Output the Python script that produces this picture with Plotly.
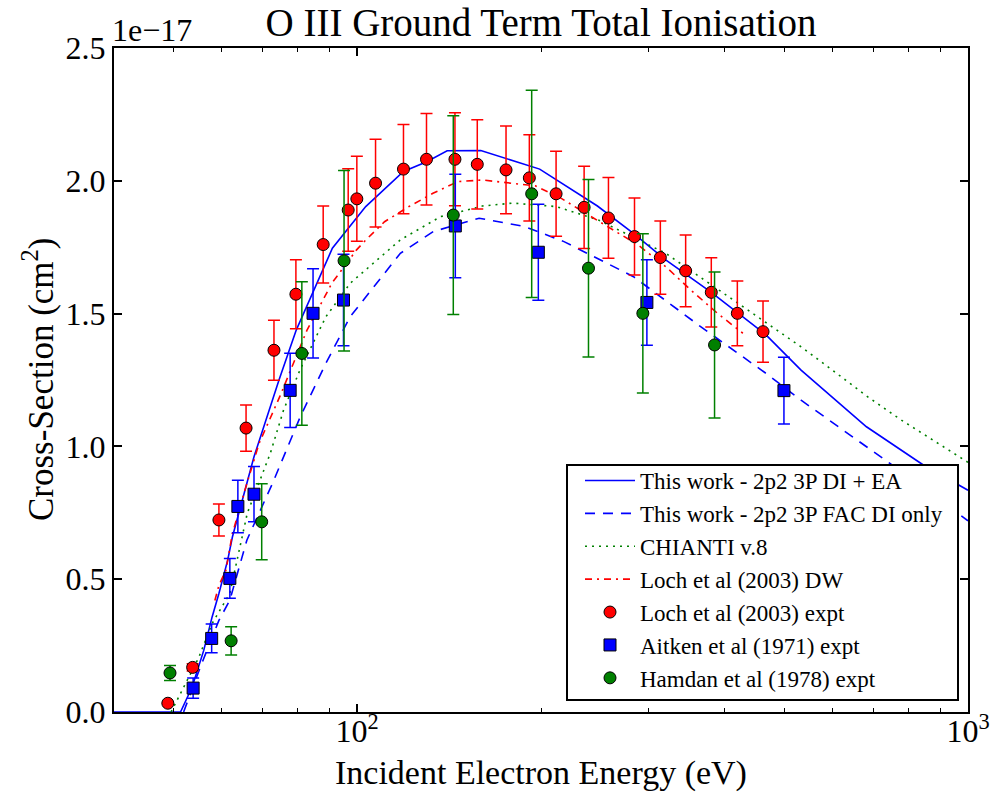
import plotly.graph_objects as go
import math

# ---------------- data (cross-section in units of 1e-17 cm^2) ----------------
loch_E = [49.0, 53.8, 59.4, 65.8, 73.1, 79.4, 88.0, 96.7, 99.9, 107.2, 119.1, 129.9,
          144.6, 157.3, 175.3, 191.4, 211.7, 235.3, 257.9, 284.5, 313.6, 345.0, 380.0,
          419.2, 461.8]
loch_sig = [0.033, 0.168, 0.723, 1.069, 1.362, 1.573, 1.76, 1.89, 1.932, 1.991, 2.044,
            2.081, 2.081, 2.062, 2.041, 2.011, 1.951, 1.900, 1.860, 1.790, 1.711, 1.661,
            1.580, 1.501, 1.432]
loch_err = [0.003, 0.014, 0.06, 0.087, 0.113, 0.13, 0.145, 0.155, 0.16, 0.165, 0.168,
            0.172, 0.175, 0.168, 0.165, 0.162, 0.16, 0.155, 0.152, 0.145, 0.138, 0.135,
            0.13, 0.122, 0.115]

aitken_E = [53.9, 57.8, 61.9, 63.8, 67.8, 77.7, 84.7, 95.0, 144.8, 198.0, 298.1, 499.7]
aitken_sig = [0.090, 0.277, 0.503, 0.774, 0.820, 1.211, 1.501, 1.551, 1.830, 1.731,
              1.542, 1.210]
aitken_err = [0.038, 0.054, 0.075, 0.099, 0.104, 0.14, 0.168, 0.172, 0.195, 0.181,
              0.161, 0.126]

hamdan_E = [49.4, 62.2, 69.8, 81.2, 95.2, 143.7, 193.1, 239.2, 293.6, 384.7]
hamdan_sig = [0.147, 0.268, 0.716, 1.350, 1.699, 1.871, 1.951, 1.671, 1.501, 1.382]
hamdan_err = [0.028, 0.053, 0.143, 0.27, 0.34, 0.374, 0.39, 0.334, 0.30, 0.275]

di_ea_E = [40, 51.4, 53.7, 56.1, 57.9, 59.4, 61.4, 62.5, 67.8, 74.5, 79.5, 85.5, 91.1,
           103.3, 119.1, 130, 140.4, 159.4, 199, 247.4, 283, 320, 380, 467, 533, 682,
           845, 1000]
di_ea_sig = [0, 0, 0.094, 0.232, 0.358, 0.446, 0.572, 0.659, 0.961, 1.25, 1.438, 1.601,
             1.746, 1.903, 2.035, 2.072, 2.113, 2.114, 2.044, 1.905, 1.803, 1.702, 1.58,
             1.42, 1.287, 1.074, 0.93, 0.835]

fac_E = [52.0, 55.4, 59.4, 61.9, 66.0, 72.7, 80.7, 88.9, 97.4, 117.7, 133.3, 158.4,
         188.0, 218.1, 283.5, 365, 467, 533, 745, 1000]
fac_sig = [0, 0.17, 0.345, 0.421, 0.647, 0.861, 1.111, 1.313, 1.488, 1.727, 1.809,
           1.859, 1.828, 1.771, 1.639, 1.451, 1.275, 1.174, 0.936, 0.72]

chianti_E = [49.6, 51.1, 55.1, 57.9, 61.9, 66.1, 72.1, 75.8, 80.6, 88.9, 97.4, 117.6,
             137, 160.3, 179.6, 211.8, 248, 320, 413.5, 533, 600, 682, 778, 1000]
chianti_sig = [0, 0.057, 0.207, 0.333, 0.447, 0.748, 0.974, 1.137, 1.287, 1.488, 1.614,
               1.777, 1.865, 1.905, 1.916, 1.903, 1.853, 1.727, 1.551, 1.375, 1.287,
               1.19, 1.099, 0.94]

dw_E = [58.5, 59.4, 61.0, 62.5, 66.0, 69.1, 74.8, 82.8, 90.9, 99.8, 103.3, 110.9, 121.6,
        133.1, 146.2, 160.3, 195.7, 215.9, 236.5, 260.3, 288.5, 320, 351.6, 389, 428]
dw_sig = [0.42, 0.477, 0.534, 0.672, 0.86, 1.011, 1.19, 1.438, 1.614, 1.74, 1.777, 1.846,
          1.903, 1.953, 1.997, 2.003, 1.981, 1.934, 1.878, 1.821, 1.758, 1.677, 1.589,
          1.501, 1.426]

x_major = [100, 1000]
x_major_text = ["10<sup>2</sup>", "10<sup>3</sup>"]
x_minor = [50, 60, 70, 80, 90, 200, 300, 400, 500, 600, 700, 800, 900]
y_ticks = [0.0, 0.5, 1.0, 1.5, 2.0, 2.5]

FONT = "Liberation Serif, Times New Roman, serif"
BLUE = "#0000ff"
GREEN = "#008000"
RED = "#ff0000"

fig = go.Figure()

fig.add_trace(go.Scatter(x=di_ea_E, y=di_ea_sig, mode="lines",
                         name="This work - 2p2 3P DI + EA",
                         line=dict(color=BLUE, width=1.6)))
fig.add_trace(go.Scatter(x=fac_E, y=fac_sig, mode="lines",
                         name="This work - 2p2 3P FAC DI only",
                         line=dict(color=BLUE, width=1.6, dash="10px,8px")))
fig.add_trace(go.Scatter(x=chianti_E, y=chianti_sig, mode="lines",
                         name="CHIANTI v.8",
                         line=dict(color=GREEN, width=1.6, dash="2px,5px")))
fig.add_trace(go.Scatter(x=dw_E, y=dw_sig, mode="lines",
                         name="Loch et al (2003) DW",
                         line=dict(color=RED, width=1.6, dash="7px,5px,2px,5px")))

def expt(xs, ys, errs, name, color, symbol):
    return go.Scatter(x=xs, y=ys, mode="markers", name=name,
                      marker=dict(symbol=symbol, size=12, color=color,
                                  line=dict(color="black", width=1)),
                      error_y=dict(type="data", array=errs, visible=True,
                                   color=color, thickness=1.5, width=6))

fig.add_trace(expt(loch_E, loch_sig, loch_err, "Loch et al (2003) expt", RED, "circle"))
fig.add_trace(expt(aitken_E, aitken_sig, aitken_err, "Aitken et al (1971) expt", BLUE, "square"))
fig.add_trace(expt(hamdan_E, hamdan_sig, hamdan_err, "Hamdan et al (1978) expt", GREEN, "circle"))

# plot area in pixels: x 114..968, y 48..712
def px_x(p):
    return (p - 114) / 854.0

def px_y(p):
    return (712 - p) / 664.0

fig.update_layout(
    width=993, height=794,
    margin=dict(l=114, r=25, t=48, b=82, autoexpand=False),
    paper_bgcolor="white", plot_bgcolor="white",
    font=dict(family=FONT, color="black", size=32),
    showlegend=True,
    title=dict(text="O III Ground Term Total Ionisation", x=0.5, xref="paper",
               xanchor="center", y=1 - 22 / 794, yanchor="middle",
               font=dict(family=FONT, size=39, color="black")),
    legend=dict(x=px_x(580), xanchor="left", y=px_y(459), yanchor="top",
                bgcolor="rgba(0,0,0,0)", borderwidth=0, itemwidth=50,
                font=dict(family=FONT, size=23, color="black"),
                tracegroupgap=0),
)

# legend frame (white box that hides curves beneath it)
fig.add_shape(type="rect", xref="paper", yref="paper",
              x0=px_x(567), x1=px_x(958), y0=px_y(700), y1=px_y(465),
              fillcolor="white", line=dict(color="black", width=2), layer="above")

fig.update_xaxes(type="log", range=[math.log10(40), 3], automargin=False,
                 tickmode="array", tickvals=x_major, ticktext=x_major_text,
                 ticks="inside", ticklen=8, tickwidth=1.5, tickcolor="black",
                 ticklabelstandoff=-10,
                 minor=dict(tickmode="array", tickvals=x_minor, ticks="inside",
                            ticklen=4, tickwidth=1.2, tickcolor="black"),
                 showline=True, linecolor="black", linewidth=2, mirror="ticks",
                 showgrid=False, zeroline=False,
                 tickfont=dict(family=FONT, size=32, color="black"))
fig.update_yaxes(range=[0, 2.5], tickmode="array", tickvals=y_ticks,
                 tickformat=".1f", automargin=False,
                 ticks="inside", ticklen=8, tickwidth=1.5, tickcolor="black",
                 showline=True, linecolor="black", linewidth=2, mirror="ticks",
                 showgrid=False, zeroline=False,
                 tickfont=dict(family=FONT, size=32, color="black"))

fig.add_annotation(text="1e\u221217", xref="paper", yref="paper", x=0, y=1,
                   xanchor="left", yanchor="bottom", xshift=-4, yshift=-2,
                   showarrow=False, font=dict(family=FONT, size=32, color="black"))
fig.add_annotation(text="Incident Electron Energy (eV)", xref="paper", yref="paper",
                   x=0.5, y=0, xanchor="center", yanchor="middle", yshift=-61,
                   showarrow=False, font=dict(family=FONT, size=34, color="black"))
fig.add_annotation(text="Cross-Section (cm<sup>2</sup>)", xref="paper", yref="paper",
                   x=0, y=0.5, xanchor="center", yanchor="middle", xshift=-76,
                   textangle=-90, showarrow=False,
                   font=dict(family=FONT, size=35, color="black"))

fig.write_html("out.html")
